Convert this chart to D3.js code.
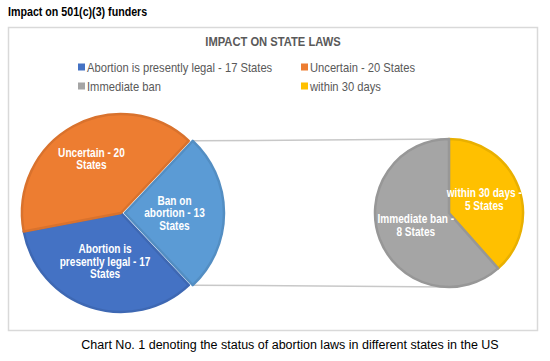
<!DOCTYPE html>
<html>
<head>
<meta charset="utf-8">
<script src="https://cdn.jsdelivr.net/npm/d3@7"></script>
<style>
  body { margin: 0; background: #fff; }
  svg { display: block; }
</style>
</head>
<body>
<div id="chart"></div>
<script>
// main pie data
const mainCategories = ["Ban on abortion", "Abortion is presently legal", "Uncertain"]
const mainValues = [13, 17, 20]
const mainLabels = [["Ban on", "abortion - 13", "States"], ["Abortion is", "presently legal - 17", "States"], ["Uncertain - 20", "States"]]
const mainColors = ["#5B9BD5", "#4472C4", "#ED7D31"]

// secondary pie (split of the ban slice)
const subCategories = ["within 30 days", "Immediate ban"]
const subValues = [5, 8]
const subLabels = [["within 30 days -", "5 States"], ["Immediate ban -", "8 States"]]
const subColors = ["#FFC000", "#A5A5A5"]

const legendLabels = ["Abortion is presently legal - 17 States", "Uncertain - 20 States", "Immediate ban", "within 30 days"]
const legendColors = ["#4472C4", "#ED7D31", "#A5A5A5", "#FFC000"]

const W = 550, H = 361
const font = "'Liberation Sans', Arial, sans-serif"

const svg = d3.select("#chart").append("svg")
    .attr("width", W)
    .attr("height", H)

// no narrow font installed, so squeeze the text horizontally
function condense(sel, k) {
    sel.each(function() {
        const w = this.getComputedTextLength()
        d3.select(this).attr("textLength", w * k).attr("lengthAdjust", "spacingAndGlyphs")
    })
}

// page heading
svg.append("text")
    .attr("x", 8).attr("y", 16)
    .attr("font-family", font)
    .attr("font-weight", "bold")
    .attr("font-size", 13)
    .attr("fill", "#000")
    .text("Impact on 501(c)(3) funders")
    .call(condense, 0.82)

// chart frame
svg.append("rect")
    .attr("x", 8.5).attr("y", 27.5)
    .attr("width", 529).attr("height", 303)
    .attr("fill", "#fff")
    .attr("stroke", "#D9D9D9")
    .attr("stroke-width", 1.5)

svg.append("text")
    .attr("x", 273).attr("y", 46)
    .attr("text-anchor", "middle")
    .attr("font-family", font)
    .attr("font-weight", "bold")
    .attr("font-size", 13)
    .attr("fill", "#595959")
    .text("IMPACT ON STATE LAWS")
    .call(condense, 0.86)

// legend, two columns
const legend = svg.append("g")
const legendX = [78, 301], legendY = [67, 86]
legendLabels.forEach((lab, i) => {
    const g = legend.append("g")
        .attr("transform", "translate(" + legendX[i % 2] + "," + legendY[Math.floor(i / 2)] + ")")
    g.append("rect")
        .attr("x", 0).attr("y", -3.5)
        .attr("width", 7).attr("height", 7)
        .attr("fill", legendColors[i])
    g.append("text")
        .attr("x", 9).attr("y", 4.5)
        .attr("font-family", font)
        .attr("font-size", 13)
        .attr("fill", "#595959")
        .text(lab)
        .call(condense, 0.86)
})

// angles: the ban slice is centred on 3 o'clock, like an excel pie-of-pie
const total = d3.sum(mainValues)
const banAngle = mainValues[0] / total * 2 * Math.PI
const pie = d3.pie().sort(null).value(d => d)
    .startAngle(Math.PI / 2 - banAngle / 2)
    .endAngle(Math.PI / 2 - banAngle / 2 + 2 * Math.PI)
const subPie = d3.pie().sort(null).value(d => d)

const R1 = 99, R2 = 74
const c1 = [121, 213], c2 = [449, 213]
const explode = 4
const labelFrac = [0.5, 0.52, 0.62]
const subLabelFrac = [0.51, 0.48]

const arc1 = d3.arc().innerRadius(0).outerRadius(R1)
const arc2 = d3.arc().innerRadius(0).outerRadius(R2)

const mainArcs = pie(mainValues)
const subArcs = subPie(subValues)

// connector lines from the ban slice to the secondary pie
const ban = mainArcs[0]
const bx = c1[0] + explode
const lines = [
    [bx + R1 * Math.sin(ban.startAngle), c1[1] - R1 * Math.cos(ban.startAngle), c2[0], c2[1] - R2],
    [bx + R1 * Math.sin(ban.endAngle), c1[1] - R1 * Math.cos(ban.endAngle), c2[0], c2[1] + R2]
]
svg.selectAll("line.conn")
    .data(lines)
    .enter()
    .append("line")
        .attr("class", "conn")
        .attr("x1", d => d[0]).attr("y1", d => d[1])
        .attr("x2", d => d[2]).attr("y2", d => d[3])
        .attr("stroke", "#C8C8C8")
        .attr("stroke-width", 1.5)

const g1 = svg.append("g").attr("transform", "translate(" + c1[0] + "," + c1[1] + ")")
g1.selectAll("path")
    .data(mainArcs)
    .enter()
    .append("path")
        .attr("transform", (d, i) => i == 0 ? "translate(" + explode + ",0)" : null)
        .attr("d", arc1)
        .attr("fill", (d, i) => mainColors[i])
        .attr("stroke", (d, i) => d3.color(mainColors[i]).darker(0.25))
        .attr("stroke-width", 2.5)
        .attr("stroke-linejoin", "round")

const g2 = svg.append("g").attr("transform", "translate(" + c2[0] + "," + c2[1] + ")")
g2.selectAll("path")
    .data(subArcs)
    .enter()
    .append("path")
        .attr("d", arc2)
        .attr("fill", (d, i) => subColors[i])
        .attr("stroke", (d, i) => d3.color(subColors[i]).darker(0.25))
        .attr("stroke-width", 2.5)
        .attr("stroke-linejoin", "round")

function addLabels(g, arcs, lines, fracs, R, shift) {
    arcs.forEach((d, i) => {
        const a = (d.startAngle + d.endAngle) / 2
        const r = R * fracs[i]
        const x = r * Math.sin(a) + (i == 0 ? shift : 0)
        const y = -r * Math.cos(a)
        const lh = 12.5
        lines[i].forEach((s, k) => {
            g.append("text")
                .attr("x", x)
                .attr("y", y + (k - (lines[i].length - 1) / 2) * lh + 4)
                .attr("text-anchor", "middle")
                .attr("font-family", font)
                .attr("font-weight", "bold")
                .attr("font-size", 12)
                .attr("fill", "#fff")
                .text(s)
                .call(condense, 0.84)
        })
    })
}
addLabels(g1, mainArcs, mainLabels, labelFrac, R1, explode)
addLabels(g2, subArcs, subLabels, subLabelFrac, R2, 0)

// caption under the frame
svg.append("text")
    .attr("x", 290).attr("y", 349)
    .attr("text-anchor", "middle")
    .attr("font-family", font)
    .attr("font-size", 12.5)
    .attr("fill", "#000")
    .text("Chart No. 1 denoting the status of abortion laws in different states in the US")
</script>
</body>
</html>
